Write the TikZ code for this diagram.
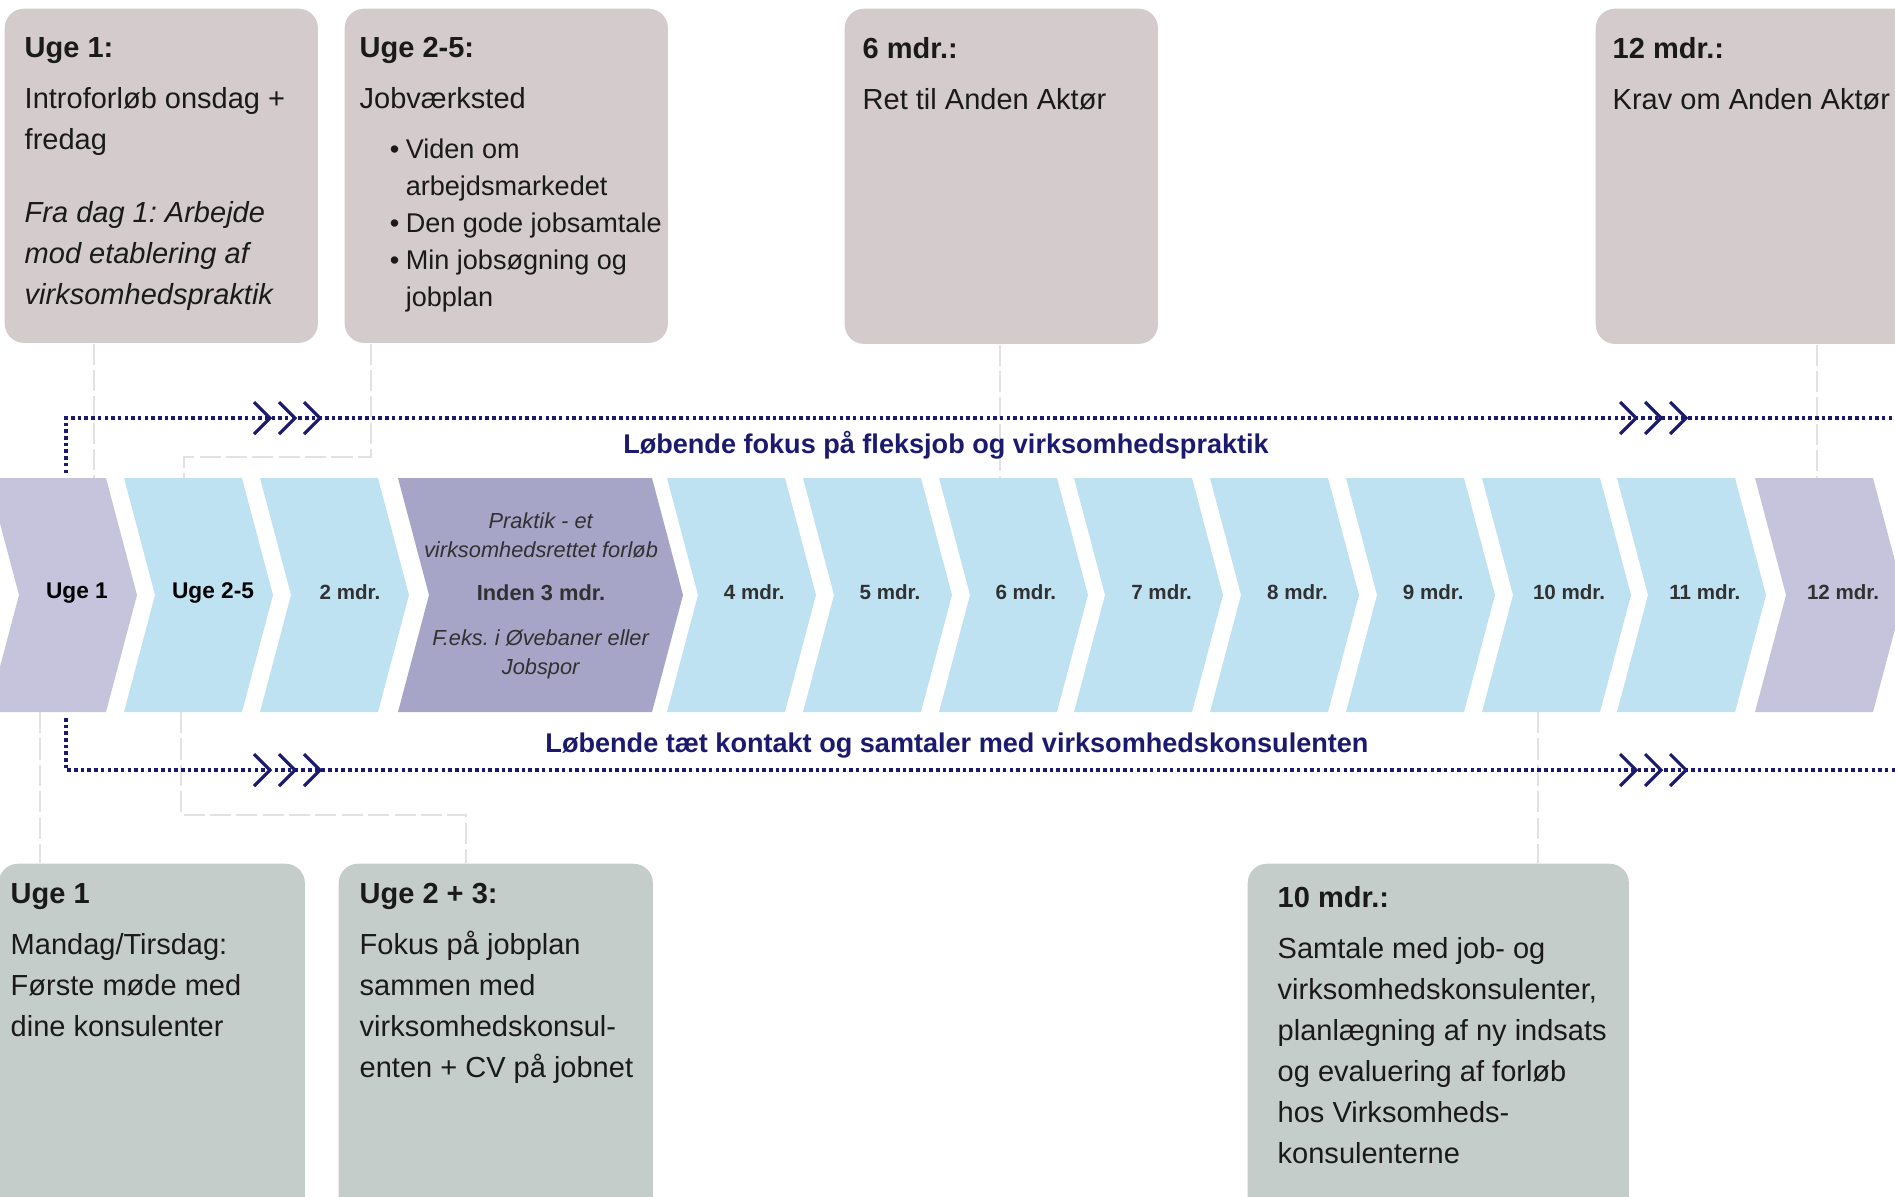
\documentclass[tikz,border=0pt]{standalone}
\usepackage{fontspec}
\setmainfont{Liberation Sans}
\frenchspacing

\definecolor{topgray}{RGB}{211,203,204}
\definecolor{botgray}{RGB}{197,205,202}
\definecolor{chevblue}{RGB}{191,226,243}
\definecolor{chevlav}{RGB}{198,196,220}
\definecolor{chevdark}{RGB}{166,164,199}
\definecolor{navy}{RGB}{27,26,110}
\definecolor{conngray}{RGB}{226,226,226}
\definecolor{inktext}{RGB}{26,26,26}

\begin{document}
\begin{tikzpicture}[x=0.01cm, y=-0.01cm,
  topbox/.style={fill=topgray, rounded corners=5.5pt, inner sep=0, anchor=north west},
  botbox/.style={fill=botgray, rounded corners=5.5pt, inner sep=0, anchor=north west},
  boxtext/.style={inner sep=0, anchor=north west, align=left, text=inktext,
    font=\fontsize{8.25pt}{11.67pt}\selectfont},
  listtext/.style={inner sep=0, anchor=north west, align=left, text=inktext,
    font=\fontsize{7.7pt}{10.5pt}\selectfont},
  chevbig/.style={inner sep=0, text=black, font=\fontsize{6.45pt}{8pt}\selectfont\bfseries},
  chevsmall/.style={inner sep=0, text=inktext!90!white, font=\fontsize{5.85pt}{8pt}\selectfont\bfseries},
  flowlabel/.style={inner sep=0, text=navy, font=\fontsize{7.7pt}{9pt}\selectfont\bfseries},
  flow/.style={navy, line width=1pt, dash pattern=on 1pt off 0.9pt},
  chevmark/.style={navy, line width=0.9pt},
  conn/.style={conngray, line width=0.8pt, dash pattern=on 6pt off 1.5pt}]

\useasboundingbox (0,0) rectangle (1895,1196);
\clip (0,0) rectangle (1895,1196);
\fill[white] (0,0) rectangle (1895,1196);

% boxes above the timeline
\node[topbox, minimum width=3.13cm, minimum height=3.34cm] (bA) at (4,8) {};
\node[topbox, minimum width=3.23cm, minimum height=3.34cm] (bB) at (344,8) {};
\node[topbox, minimum width=3.13cm, minimum height=3.35cm] (bC) at (844,8) {};
\node[topbox, minimum width=3.30cm, minimum height=3.35cm] (bD) at (1595,8) {};

% boxes below the timeline
\node[botbox, minimum width=3.06cm, minimum height=3.60cm] (bE) at (-2,863) {};
\node[botbox, minimum width=3.14cm, minimum height=3.60cm] (bF) at (338,863) {};
\node[botbox, minimum width=3.81cm, minimum height=3.60cm] (bG) at (1247,863) {};

% timeline
\foreach \cx/\w/\col in {-12/118/chevlav, 124/118/chevblue, 260/118/chevblue,
    398/254/chevdark, 667/118/chevblue, 803/118/chevblue, 939/118/chevblue,
    1074/118/chevblue, 1210/118/chevblue, 1346/118/chevblue, 1482/118/chevblue,
    1617/118/chevblue, 1755/118/chevlav}
  \fill[\col] (\cx,478) -- ++(\w,0) -- ++(31,117) -- ++(-31,117) -- ++(-\w,0) -- ++(31,-117) -- cycle;

\node[chevbig] (c0) at (77,593) {Uge 1};
\node[chevbig] (c1) at (213,593) {Uge 2-5};
\node[chevsmall] (c2) at (350,592) {2 mdr.};
\node[chevsmall, align=center, font=\fontsize{6.2pt}{8.25pt}\selectfont] (c3) at (541,596)
  {\textit{Praktik - et}\\ \textit{virksomhedsrettet forløb}\\[4pt]
   \textbf{Inden 3 mdr.}\\[4.5pt] \textit{F.eks. i Øvebaner eller}\\ \textit{Jobspor}};
\foreach \k in {4,...,11}
  \node[chevsmall] (c\k) at ({124+135.8*\k+87},592) {\k\ mdr.};
\node[chevsmall] (c12) at (1843,592) {12 mdr.};

% gray connectors
\coordinate (pA) at (94,478);
\coordinate (pB) at (184,478);
\coordinate (kB) at (371,457);
\coordinate (pC) at (1000,478);
\coordinate (pD) at (1817,478);
\coordinate (pE) at (40,712);
\coordinate (pF) at (181,712);
\coordinate (kF) at (466,815);
\coordinate (pG) at (1538,712);

\draw[conn] (bA.south -| pA) -- (pA);
\draw[conn] (bB.south -| kB) -- (kB) -| (pB);
\draw[conn] (bC.south -| pC) -- (pC);
\draw[conn] (bD.south -| pD) -- (pD);
\draw[conn] (pE) -- (pE |- bE.north);
\draw[conn] (pF) |- (kF) -- (kF |- bF.north);
\draw[conn] (pG) -- (pG |- bG.north);

% running focus lines
\coordinate (fA0) at (66,473);
\coordinate (fA1) at (1900,418);
\coordinate (fB0) at (66,718);
\coordinate (fB1) at (1900,770);
\draw[flow] (fA0) |- (fA1);
\draw[flow] (fB0) |- (fB1);
\foreach \x in {254,279,304,1620,1645,1670} {
  \draw[chevmark] (\x,402) -- ++(16,16) -- ++(-16,16);
  \draw[chevmark] (\x,754) -- ++(16,16) -- ++(-16,16);
}
\node[flowlabel] (lTop) at (946,445) {Løbende fokus på fleksjob og virksomhedspraktik};
\node[flowlabel] (lBot) at (957,746) {Løbende tæt kontakt og samtaler med virksomhedskonsulenten};

% box texts
\node[boxtext] (tA) at (24,37) {\textbf{Uge 1:}\\[2.8pt] Introforløb onsdag +\\ fredag\\[9pt]
  \textit{Fra dag 1: Arbejde}\\ \textit{mod etablering af}\\ \textit{virksomhedspraktik}};
\node[boxtext] (tB) at (359,37) {\textbf{Uge 2-5:}\\[2.8pt] Jobværksted};
\node[listtext] (tB2) at (359,138) {\makebox[13.1pt][r]{\textbullet\hspace{1.8pt}}Viden om\\
  \hspace*{13.1pt}arbejdsmarkedet\\ \makebox[13.1pt][r]{\textbullet\hspace{1.8pt}}Den gode jobsamtale\\
  \makebox[13.1pt][r]{\textbullet\hspace{1.8pt}}Min jobsøgning og\\ \hspace*{13.1pt}jobplan};
\node[boxtext] (tC) at (862,37) {\textbf{6 mdr.:}\\[2.8pt] Ret til Anden Aktør};
\node[boxtext] (tD) at (1612,37) {\textbf{12 mdr.:}\\[2.8pt] Krav om Anden Aktør};
\node[boxtext] (tE) at (10,883) {\textbf{Uge 1}\\[2.8pt] Mandag/Tirsdag:\\ Første møde med\\ dine konsulenter};
\node[boxtext] (tF) at (359,883) {\textbf{Uge 2 + 3:}\\[2.8pt] Fokus på jobplan\\ sammen med\\
  virksomhedskonsul-\\ enten + CV på jobnet};
\node[boxtext] (tG) at (1277,886) {\textbf{10 mdr.:}\\[2.8pt] Samtale med job- og\\
  virksomhedskonsulenter,\\ planlægning af ny indsats\\ og evaluering af forløb\\
  hos Virksomheds-\\ konsulenterne};

\end{tikzpicture}
\end{document}
